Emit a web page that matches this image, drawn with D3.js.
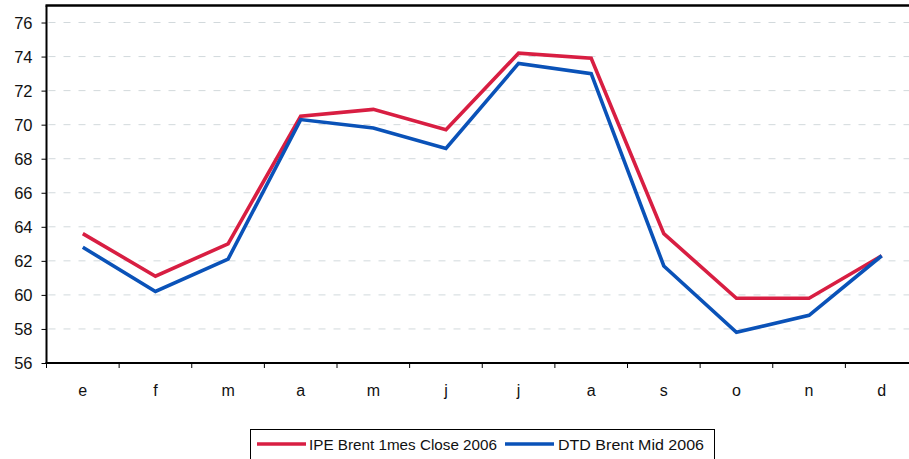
<!DOCTYPE html>
<html>
<head>
<meta charset="utf-8">
<script src="https://cdn.jsdelivr.net/npm/d3@7"></script>
<style>
  body { margin: 0; background: #fff; }
  svg { display: block; }
  svg text { font-family: "Liberation Sans", Arial, sans-serif; fill: #111; }
</style>
</head>
<body>
<div id="chart"></div>
<script>
// months (spanish initials), 2006
const months = ["e", "f", "m", "a", "m", "j", "j", "a", "s", "o", "n", "d"];
const ipeBrent = [63.6, 61.1, 63.0, 70.5, 70.9, 69.7, 74.2, 73.9, 63.6, 59.8, 59.8, 62.3];
const dtdBrent = [62.8, 60.2, 62.1, 70.3, 69.8, 68.6, 73.6, 73.0, 61.7, 57.8, 58.8, 62.3];
const yTicks = [56, 58, 60, 62, 64, 66, 68, 70, 72, 74, 76];
const seriesNames = ["IPE Brent 1mes Close 2006", "DTD Brent Mid 2006"];
const seriesColors = ["#d81e42", "#0a52b8"];

const width = 909, height = 459;
const plotLeft = 46.5, plotTop = 5.5, plotBottom = 363, plotRight = 918;

const svg = d3.select("#chart").append("svg")
  .attr("width", width)
  .attr("height", height);

const x = d3.scaleBand()
  .domain(d3.range(months.length))
  .range([plotLeft, plotRight])
  .padding(0);

const y = d3.scaleLinear()
  .domain([56, 77])
  .range([plotBottom, plotTop]);

// dashed gridlines
svg.append("g")
  .selectAll("line")
  .data(yTicks.filter(d => d > 56))
  .enter().append("line")
    .attr("x1", plotLeft + 2)
    .attr("x2", plotRight)
    .attr("y1", d => y(d))
    .attr("y2", d => y(d))
    .attr("stroke", "#d2d9dc")
    .attr("stroke-width", 1)
    .attr("stroke-dasharray", "7,8");

// y axis
const yAxis = svg.append("g")
  .attr("transform", "translate(" + plotLeft + ",0)")
  .call(d3.axisLeft(y).tickValues(yTicks).tickSize(5).tickPadding(9));
yAxis.select(".domain").remove();
yAxis.selectAll("line").attr("stroke", "#000");
yAxis.selectAll("text")
  .style("font-size", "16.5px")
  .attr("dy", "0.36em");

// x axis, ticks at band edges
const xAxis = svg.append("g")
  .attr("transform", "translate(0," + plotBottom + ")");
xAxis.selectAll("line")
  .data(d3.range(months.length + 1))
  .enter().append("line")
    .attr("x1", i => i < months.length ? x(i) : plotRight)
    .attr("x2", i => i < months.length ? x(i) : plotRight)
    .attr("y1", 0)
    .attr("y2", 5)
    .attr("stroke", "#000");
xAxis.selectAll("text")
  .data(months)
  .enter().append("text")
    .attr("x", (d, i) => x(i) + x.bandwidth() / 2)
    .attr("y", 33)
    .attr("text-anchor", "middle")
    .style("font-size", "16px")
    .text(d => d);

// frame: left, top, bottom
svg.append("line")
  .attr("x1", plotLeft).attr("x2", plotLeft)
  .attr("y1", plotTop).attr("y2", plotBottom + 1)
  .attr("stroke", "#000").attr("stroke-width", 2);
svg.append("line")
  .attr("x1", plotLeft - 1).attr("x2", plotRight)
  .attr("y1", plotTop).attr("y2", plotTop)
  .attr("stroke", "#000").attr("stroke-width", 2.5);
svg.append("line")
  .attr("x1", plotLeft - 1).attr("x2", plotRight)
  .attr("y1", plotBottom).attr("y2", plotBottom)
  .attr("stroke", "#000").attr("stroke-width", 2);

// lines
const line = d3.line()
  .x((d, i) => x(i) + x.bandwidth() / 2)
  .y(d => y(d));

[ipeBrent, dtdBrent].forEach((vals, k) => {
  svg.append("path")
    .datum(vals)
    .attr("fill", "none")
    .attr("stroke", seriesColors[k])
    .attr("stroke-width", 3.6)
    .attr("stroke-linejoin", "miter")
    .attr("d", line);
});

// legend
const legend = svg.append("g");
legend.append("rect")
  .attr("x", 250.5).attr("y", 429.5)
  .attr("width", 464).attr("height", 40)
  .attr("fill", "#fff")
  .attr("stroke", "#000")
  .attr("stroke-width", 1);
const legendItems = [
  { lx: 257, tx: 309, tw: 188 },
  { lx: 505, tx: 558, tw: 146 }
];
legendItems.forEach((it, k) => {
  legend.append("line")
    .attr("x1", it.lx).attr("x2", it.lx + 49)
    .attr("y1", 444).attr("y2", 444)
    .attr("stroke", seriesColors[k])
    .attr("stroke-width", 3.6);
  legend.append("text")
    .attr("x", it.tx)
    .attr("y", 449.5)
    .style("font-size", "15px")
    .attr("textLength", it.tw)
    .attr("lengthAdjust", "spacingAndGlyphs")
    .text(seriesNames[k]);
});
</script>
</body>
</html>
